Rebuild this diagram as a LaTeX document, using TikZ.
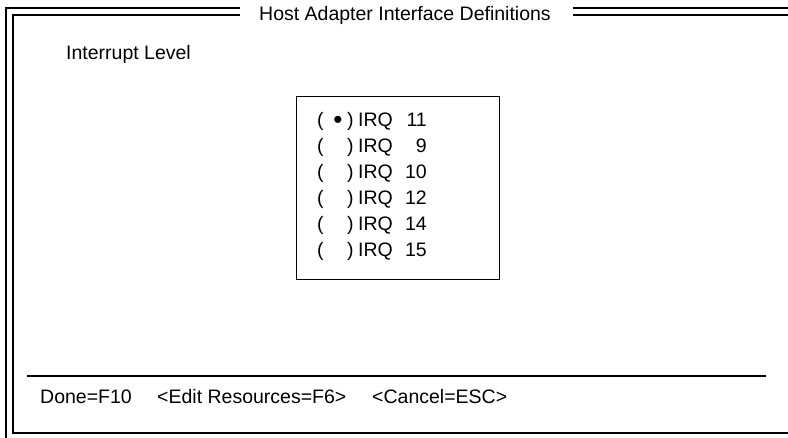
\documentclass[tikz,border=0pt]{standalone}
\usepackage{fontspec}
\setmainfont{Liberation Sans}
\begin{document}
\begin{tikzpicture}[x=1pt,y=-1pt,
  frame/.style={line width=1.6pt,black},
  label/.style={inner sep=0pt,anchor=base west,font=\fontsize{19.5}{22}\selectfont},
  numlabel/.style={inner sep=0pt,anchor=base east,font=\fontsize{19.5}{22}\selectfont},
  marker/.style={inner sep=0pt,anchor=base,font=\fontsize{26}{28}\selectfont}]
\useasboundingbox[fill=white] (0,0) rectangle (788,438);

% window title
\node[label] (title) at (259,21) {Host Adapter Interface Definitions};
\coordinate (tl) at (240,0);
\coordinate (tr) at (573,0);

% double frame: left side and top, broken by the title
\draw[frame] (6,438) -- (6,8) -- (tl|-0,8);
\draw[frame] (tr|-0,8) -- (788,8);
\draw[frame] (788,15) -- (tr|-0,15);
\draw[frame] (tl|-0,15) -- (13,15) -- (13,433) -- (788,433);

% field label
\node[label] (level) at (66,60) {Interrupt Level};

% selection list box
\node[draw,line width=1.4pt,minimum width=203pt,minimum height=183pt,inner sep=0pt,anchor=north west] (listbox) at (296,96) {};

% radio options
\foreach \i/\n/\sel in {0/11/1,1/9/0,2/10/0,3/12/0,4/14/0,5/15/0}{
  \node[label] (lp\i) at (317,{127+26*\i}) {(};
  \ifnum\sel=1
    \node[marker] (dot\i) at (338,{129+26*\i}) {•};
  \fi
  \node[label] (rp\i) at (347,{127+26*\i}) {)};
  \node[label] (irq\i) at (358,{127+26*\i}) {IRQ};
  \node[numlabel] (num\i) at (427,{127+26*\i}) {\n};
}

% key line
\coordinate (sepL) at (27,376);
\coordinate (sepR) at (766,376);
\draw[line width=1.4pt] (sepL) -- (sepR);
\node[label] (done) at (40,404) {Done=F10};
\node[label] (edit) at (157,404) {<Edit Resources=F6>};
\node[label] (cancel) at (372,404) {<Cancel=ESC>};
\end{tikzpicture}
\end{document}
